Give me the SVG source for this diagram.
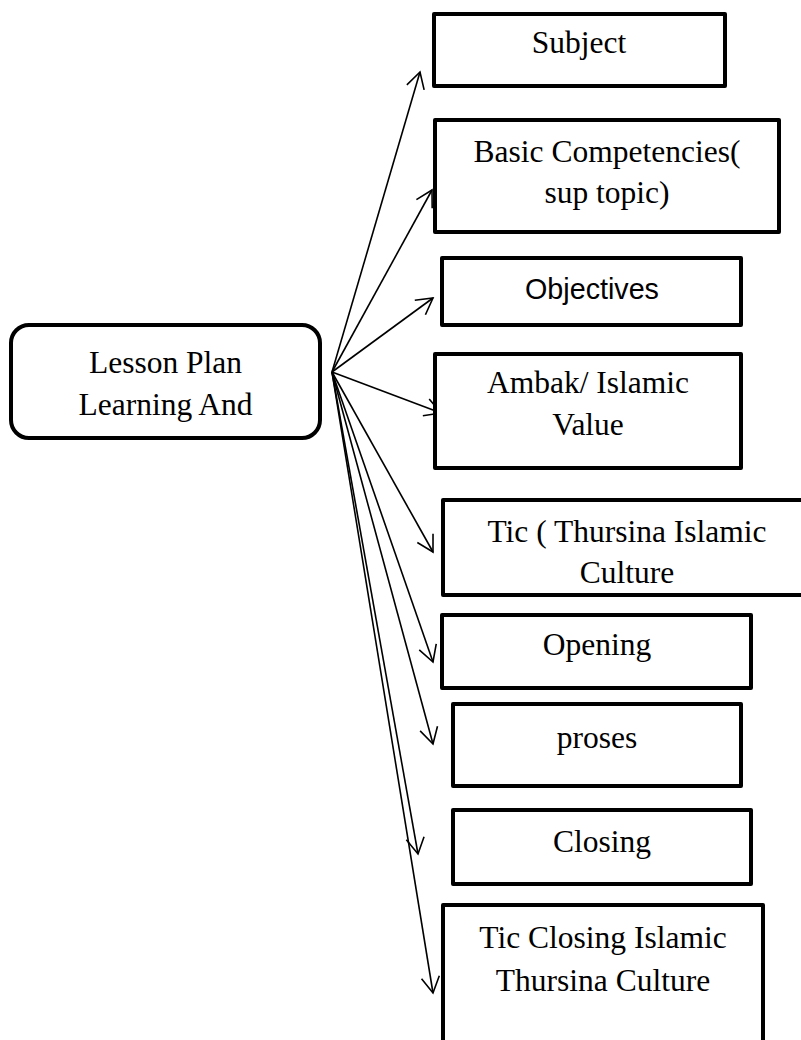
<svg xmlns="http://www.w3.org/2000/svg" width="801" height="1040" viewBox="0 0 801 1040">
  <style>
    .box { fill: #ffffff; stroke: #000000; stroke-width: 4; stroke-linejoin: round; }
    .lbl { font-family: "Liberation Serif", "Times New Roman", serif; font-size: 31.5px; fill: #000000; text-anchor: middle; }
    .lbl-sans { font-family: "Liberation Sans", Arial, sans-serif; font-size: 28.7px; fill: #000000; text-anchor: middle; }
    .edge { stroke: #000000; stroke-width: 1.6; fill: none; marker-end: url(#open-arrow); }
  </style>
  <defs>
    <marker id="open-arrow" markerUnits="userSpaceOnUse" viewBox="-18 -11 20 22" markerWidth="20" markerHeight="22" refX="0" refY="0" orient="auto" overflow="visible">
      <path d="M -16,-9 L 0,0 L -16,9" fill="none" stroke="#000000" stroke-width="1.6" stroke-linejoin="miter"/>
    </marker>
  </defs>
  <rect width="801" height="1040" fill="#ffffff"/>

  <!-- fan of connectors from the lesson plan node -->
  <g id="connectors">
    <line class="edge" x1="332" y1="372" x2="420" y2="72"/>
    <line class="edge" x1="332" y1="372" x2="432" y2="190"/>
    <line class="edge" x1="332" y1="372" x2="433" y2="298"/>
    <line class="edge" x1="332" y1="372" x2="441" y2="413"/>
    <line class="edge" x1="332" y1="372" x2="433" y2="552"/>
    <line class="edge" x1="332" y1="372" x2="433" y2="662"/>
    <line class="edge" x1="332" y1="372" x2="433" y2="744"/>
    <line class="edge" x1="332" y1="372" x2="418" y2="854"/>
    <line class="edge" x1="332" y1="372" x2="433" y2="993"/>
  </g>

  <g id="lesson-plan">
    <rect class="box" x="11" y="325" width="309" height="113" rx="18" ry="18"/>
    <text class="lbl" x="165.5" y="373">Lesson Plan</text>
    <text class="lbl" x="165.5" y="415">Learning And</text>
  </g>

  <g id="subject">
    <rect class="box" x="434" y="14" width="291" height="72"/>
    <text class="lbl" x="579" y="53">Subject</text>
  </g>

  <g id="basic-competencies">
    <rect class="box" x="435" y="120" width="344" height="112"/>
    <text class="lbl" x="607" y="162">Basic Competencies(</text>
    <text class="lbl" x="607" y="203">sup topic)</text>
  </g>

  <g id="objectives">
    <rect class="box" x="442" y="258" width="299" height="67"/>
    <text class="lbl-sans" x="592" y="299">Objectives</text>
  </g>

  <g id="ambak">
    <rect class="box" x="435" y="354" width="306" height="114"/>
    <text class="lbl" x="588" y="393">Ambak/ Islamic</text>
    <text class="lbl" x="588" y="435">Value</text>
  </g>

  <g id="tic">
    <rect class="box" x="443" y="500" width="370" height="95"/>
    <text class="lbl" x="627" y="542">Tic ( Thursina Islamic</text>
    <text class="lbl" x="627" y="583">Culture</text>
  </g>

  <g id="opening">
    <rect class="box" x="442" y="615" width="309" height="73"/>
    <text class="lbl" x="597" y="655">Opening</text>
  </g>

  <g id="proses">
    <rect class="box" x="453" y="704" width="288" height="82"/>
    <text class="lbl" x="597" y="748">proses</text>
  </g>

  <g id="closing">
    <rect class="box" x="453" y="810" width="298" height="74"/>
    <text class="lbl" x="602" y="852">Closing</text>
  </g>

  <g id="tic-closing">
    <rect class="box" x="443" y="905" width="320" height="150"/>
    <text class="lbl" x="603" y="948">Tic Closing Islamic</text>
    <text class="lbl" x="603" y="991">Thursina Culture</text>
  </g>
</svg>
